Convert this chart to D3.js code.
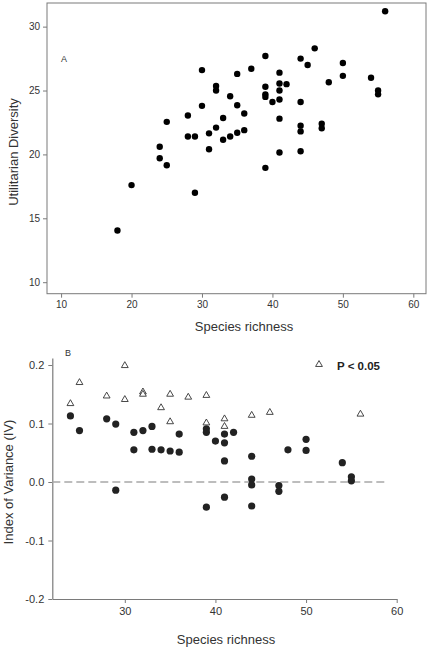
<!DOCTYPE html>
<html><head><meta charset="utf-8">
<script src="https://cdn.jsdelivr.net/npm/d3@7"></script>
<style>
html,body{margin:0;padding:0;background:#fff;}
svg{display:block;font-family:"Liberation Sans",Arial,sans-serif;}
</style></head>
<body><svg id="c" width="430" height="650"></svg>
<script>
// Panel A data
const topRichness  = [56,46,39,44,45,50,50,54,55,55,48,30,37,35,41,41,42,41,39,39,39,40,41,44,32,32,34,28,30,35,36,33,41,25,44,44,47,47,28,29,31,32,33,34,35,36,31,24,41,44,24,25,20,29,39,18];
const topDiversity = [31.2,28.3,27.7,27.5,27.0,27.15,26.15,26.0,25.0,24.7,25.65,26.6,26.7,26.3,26.4,25.55,25.5,25.0,25.3,24.7,24.5,24.1,24.3,24.1,25.35,25.0,24.55,23.05,23.8,23.85,23.2,22.85,22.8,22.55,22.25,21.8,22.4,22.05,21.4,21.4,21.65,22.1,21.15,21.4,21.7,21.9,20.4,20.6,20.15,20.25,19.7,19.15,17.6,17.0,18.95,14.05];
const topXTicks = [10,20,30,40,50,60];
const topYTicks = [10,15,20,25,30];

// Panel B data
const circRichness = [24,25,28,29,29,31,31,32,33,33,34,35,36,36,39,39,39,40,41,41,41,41,42,44,44,44,44,47,47,48,50,50,54,55,55];
const circIV = [0.113,0.088,0.108,0.099,-0.014,0.085,0.055,0.088,0.095,0.056,0.055,0.053,0.082,0.051,0.091,0.085,-0.043,0.070,0.082,0.067,0.036,-0.026,0.085,0.044,0.005,-0.005,-0.041,-0.006,-0.016,0.055,0.073,0.054,0.033,0.009,0.002];
const triRichness = [24,25,28,30,30,32,32,34,35,35,37,39,39,41,41,44,46,56];
const triIV = [0.134,0.170,0.147,0.199,0.141,0.154,0.150,0.127,0.150,0.103,0.145,0.148,0.101,0.108,0.095,0.114,0.119,0.116];
const botXTicks = [30,40,50,60];
const botYTicks = [-0.2,-0.1,0.0,0.1,0.2];
const botYLabels = ["-0.2","-0.1","0.0","0.1","0.2"];

const svg = d3.select("#c");
const axisCol = "#7a7a7a", textCol = "#333";

// ---------- Panel A ----------
const xA = d3.scaleLinear().domain([8, 61.8]).range([47, 426]);
const yA = d3.scaleLinear().domain([9.1, 31.85]).range([293.7, 3]);
const gA = svg.append("g");
gA.append("rect").attr("x",47).attr("y",3).attr("width",379).attr("height",290.7)
  .attr("fill","none").attr("stroke",axisCol).attr("stroke-width",1);
const axA_x = gA.append("g").attr("transform","translate(0,293.7)")
  .call(d3.axisBottom(xA).tickValues(topXTicks).tickSize(4).tickSizeOuter(0).tickPadding(3));
const axA_y = gA.append("g").attr("transform","translate(47,0)")
  .call(d3.axisLeft(yA).tickValues(topYTicks).tickSize(4).tickSizeOuter(0).tickPadding(3));
[axA_x, axA_y].forEach(a=>{
  a.select(".domain").remove();
  a.selectAll("line").attr("stroke",axisCol);
  a.selectAll("text").attr("fill",textCol).style("font-size","10px").style("font-family","'Liberation Sans',Arial,sans-serif");
});
gA.selectAll("circle.pt").data(topRichness.map((r,i)=>[r,topDiversity[i]])).enter()
  .append("circle").attr("class","pt")
  .attr("cx",d=>xA(d[0])).attr("cy",d=>yA(d[1])).attr("r",3.2).attr("fill","#000");
gA.append("text").attr("x",64).attr("y",61.5).attr("text-anchor","middle")
  .attr("fill",textCol).style("font-size","9px").text("A");
gA.append("text").attr("x",244).attr("y",331).attr("text-anchor","middle")
  .attr("fill",textCol).style("font-size","13px").text("Species richness");
gA.append("text").attr("transform","translate(18,152) rotate(-90)").attr("text-anchor","middle")
  .attr("fill",textCol).style("font-size","13px").text("Utilitarian Diversity");

// ---------- Panel B ----------
const xB = d3.scaleLinear().domain([22, 60]).range([52.3, 396.7]);
const yB = d3.scaleLinear().domain([-0.2, 0.212]).range([599, 358]);
const gB = svg.append("g");
const axB_x = gB.append("g").attr("transform","translate(0,599)")
  .call(d3.axisBottom(xB).tickValues(botXTicks).tickSize(4).tickSizeOuter(0).tickPadding(4));
const axB_y = gB.append("g").attr("transform","translate(52.3,0)")
  .call(d3.axisLeft(yB).tickValues(botYTicks).tickFormat((d,i)=>botYLabels[i]).tickSize(4).tickSizeOuter(0).tickPadding(4));
[axB_x, axB_y].forEach(a=>{
  a.select(".domain").attr("stroke",axisCol).attr("stroke-width",1.2);
  a.selectAll("line").attr("stroke",axisCol);
  a.selectAll("text").attr("fill",textCol).style("font-size","11px").style("font-family","'Liberation Sans',Arial,sans-serif");
});
gB.append("line").attr("x1",xB(22)).attr("x2",xB(59)).attr("y1",yB(0)).attr("y2",yB(0))
  .attr("stroke","#a8a8a8").attr("stroke-width",1.5).attr("stroke-dasharray","8,4");
gB.selectAll("circle.pt").data(circRichness.map((r,i)=>[r,circIV[i]])).enter()
  .append("circle").attr("class","pt")
  .attr("cx",d=>xB(d[0])).attr("cy",d=>yB(d[1])).attr("r",3.6).attr("fill","#222");
const tri = d3.symbol().type(d3.symbolTriangle).size(20);
gB.selectAll("path.tri").data(triRichness.map((r,i)=>[r,triIV[i]])).enter()
  .append("path").attr("class","tri").attr("d",tri)
  .attr("transform",d=>`translate(${xB(d[0])},${yB(d[1])})`)
  .attr("fill","#fff").attr("stroke","#333").attr("stroke-width",0.9);
// legend
gB.append("path").attr("d",tri).attr("transform","translate(319,364.5)")
  .attr("fill","#fff").attr("stroke","#333").attr("stroke-width",0.9);
gB.append("text").attr("x",337).attr("y",369.5).attr("fill","#222")
  .style("font-size","11.5px").style("font-weight","bold").text("P < 0.05");
gB.append("text").attr("x",68).attr("y",355.5).attr("text-anchor","middle")
  .attr("fill",textCol).style("font-size","9px").text("B");
gB.append("text").attr("x",226).attr("y",644).attr("text-anchor","middle")
  .attr("fill",textCol).style("font-size","13px").text("Species richness");
gB.append("text").attr("transform","translate(13,482) rotate(-90)").attr("text-anchor","middle")
  .attr("fill",textCol).style("font-size","13px").text("Index of Variance (IV)");
</script></body></html>
